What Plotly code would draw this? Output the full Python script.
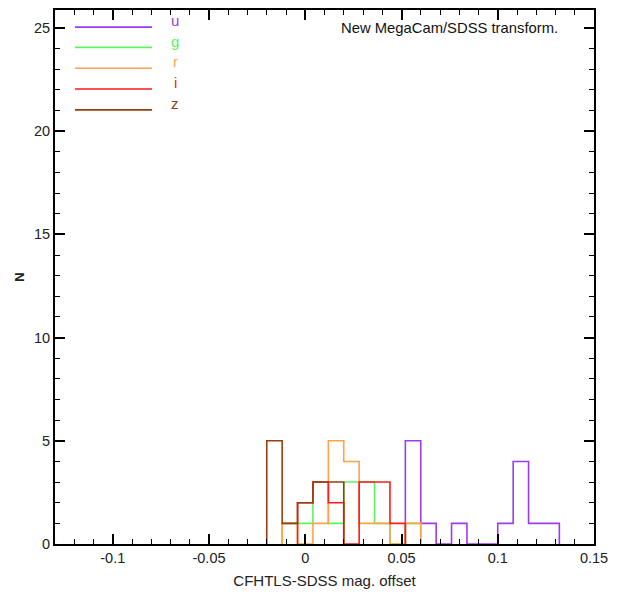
import plotly.graph_objects as go

# Common bin edges (mag offset) and counts per band
bin_start = -0.020
bin_width = 0.008
n_bins = 19
bands = ["u", "g", "r", "i", "z"]
colors = ["#9A3CF0", "#5CF55C", "#FFA347", "#FF1A1A", "#96400F"]
counts_u = [0, 0, 0, 0, 0, 0, 0, 0, 0, 5, 1, 0, 1, 0, 0, 1, 4, 1, 1]
counts_g = [0, 1, 1, 3, 1, 3, 3, 1, 0, 1, 0, 0, 0, 0, 0, 0, 0, 0, 0]
counts_r = [0, 1, 0, 1, 5, 4, 1, 1, 0, 1, 0, 0, 0, 0, 0, 0, 0, 0, 0]
counts_i = [0, 0, 2, 3, 2, 0, 3, 3, 1, 0, 0, 0, 0, 0, 0, 0, 0, 0, 0]
counts_z = [5, 1, 2, 3, 3, 0, 0, 0, 0, 0, 0, 0, 0, 0, 0, 0, 0, 0, 0]
all_counts = [counts_u, counts_g, counts_r, counts_i, counts_z]

x_tickvals = [-0.1, -0.05, 0, 0.05, 0.1, 0.15]
x_ticktext = ["-0.1", "-0.05", "0", "0.05", "0.1", "0.15"]

edges = [round(bin_start + k * bin_width, 4) for k in range(n_bins + 1)]

fig = go.Figure()
for name, col, cnt in zip(bands, colors, all_counts):
    nz = [k for k, v in enumerate(cnt) if v > 0]
    a, b = nz[0], nz[-1]
    xs = [edges[a]] + edges[a:b + 1] + [edges[b + 1]]
    ys = [0] + cnt[a:b + 1] + [0]
    fig.add_trace(go.Scatter(x=xs, y=ys, mode="lines", line_shape="hv",
                             line=dict(color=col, width=1.6), name=name,
                             showlegend=False, hoverinfo="skip"))

FONT = "Liberation Sans"

# custom legend: line + coloured label
leg_y = [0.968, 0.930, 0.891, 0.852, 0.813]
for name, col, yy in zip(bands, colors, leg_y):
    fig.add_shape(type="line", xref="paper", yref="paper",
                  x0=0.037, x1=0.180, y0=yy, y1=yy,
                  line=dict(color=col, width=1.6))
    fig.add_annotation(xref="paper", yref="paper", x=0.223, y=yy - 0.008,
                       text=name, showarrow=False, xanchor="center", yanchor="bottom",
                       font=dict(color=col, size=15, family=FONT))

fig.add_annotation(xref="paper", yref="paper", x=0.937, y=0.966,
                   text="New MegaCam/SDSS transform.", showarrow=False,
                   xanchor="right", yanchor="middle",
                   font=dict(color="#111", size=14.8, family=FONT))

axis_common = dict(showline=True, linecolor="black", linewidth=2, mirror="allticks",
                   ticks="inside", ticklen=10, tickwidth=1.6, tickcolor="black",
                   showgrid=False, zeroline=False,
                   tickfont=dict(family=FONT, size=14.5, color="#222"))

fig.update_layout(
    width=621, height=596,
    margin=dict(l=47, r=35, t=0, b=60),
    paper_bgcolor="white", plot_bgcolor="white",
    xaxis=dict(range=[-0.13, 0.15], tickmode="array", tickvals=x_tickvals, ticktext=x_ticktext,
               minor=dict(tick0=0, dtick=0.01, ticks="inside", ticklen=5, tickwidth=1.3, tickcolor="black"),
               title=dict(text="CFHTLS-SDSS mag. offset", standoff=10,
                          font=dict(family=FONT, size=15, color="#222")),
               **axis_common),
    yaxis=dict(range=[0, 25.87], tick0=0, dtick=5,
               minor=dict(dtick=1, ticks="inside", ticklen=5, tickwidth=1.3, tickcolor="black"),
               title=dict(text="<b>N</b>", standoff=6,
                          font=dict(family=FONT, size=13, color="#222")),
               **axis_common),
)

fig.write_html("out.html")
